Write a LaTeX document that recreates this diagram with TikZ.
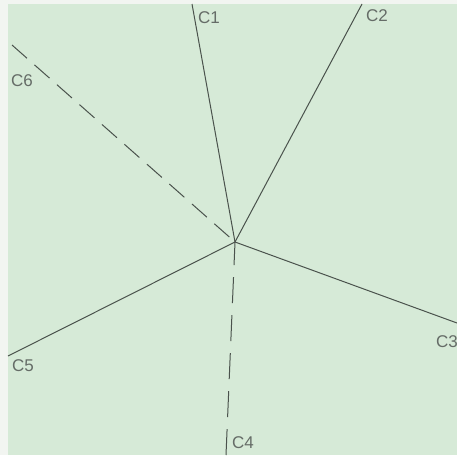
\documentclass[tikz,border=0pt]{standalone}
\usepackage{fontspec}
\setsansfont{Liberation Sans}
\usetikzlibrary{positioning}
\definecolor{paper}{HTML}{D6EAD7}
\definecolor{rim}{HTML}{F2F5F1}
\definecolor{pencil}{HTML}{4A524C}
\tikzset{
  ray/.style={draw=pencil, line width=1pt},
  dashray/.style={ray, dash pattern=on 20pt off 10pt},
  lbl/.style={font=\sffamily\fontsize{17}{17}\selectfont, text=pencil!85, inner sep=0pt}
}
\begin{document}
\begin{tikzpicture}[x=1pt, y=-1pt]
    % page and paper
    \fill[rim] (0,0) rectangle (457,455);
    \fill[paper] (8,4) rectangle (457,455);
    \useasboundingbox (0,0) rectangle (457,455);

    % centre and ray ends
    \coordinate (o) at (235,242);
    \coordinate (e1) at (192,4);
    \coordinate (e2) at (362,4);
    \coordinate (e3) at (457,323);
    \coordinate (e4) at (226,455);
    \coordinate (e5) at (8,356);
    \coordinate (e6) at (12,45);

    % rays
    \draw[ray] (o) -- (e1);
    \draw[ray] (o) -- (e2);
    \draw[ray] (o) -- (e3);
    \draw[dashray, dash pattern=on 26pt off 12pt] (e4) -- (o);
    \draw[ray] (o) -- (e5);
    \draw[dashray] (e6) -- (o);

    % labels
    \node[lbl] (c1) at (209,18) {C1};
    \node[lbl] (c2) at (377,16) {C2};
    \node[lbl] (c3) at (447,342) {C3};
    \node[lbl] (c4) at (243,443) {C4};
    \node[lbl] (c5) at (23,366) {C5};
    \node[lbl] (c6) at (22,81) {C6};
\end{tikzpicture}
\end{document}
